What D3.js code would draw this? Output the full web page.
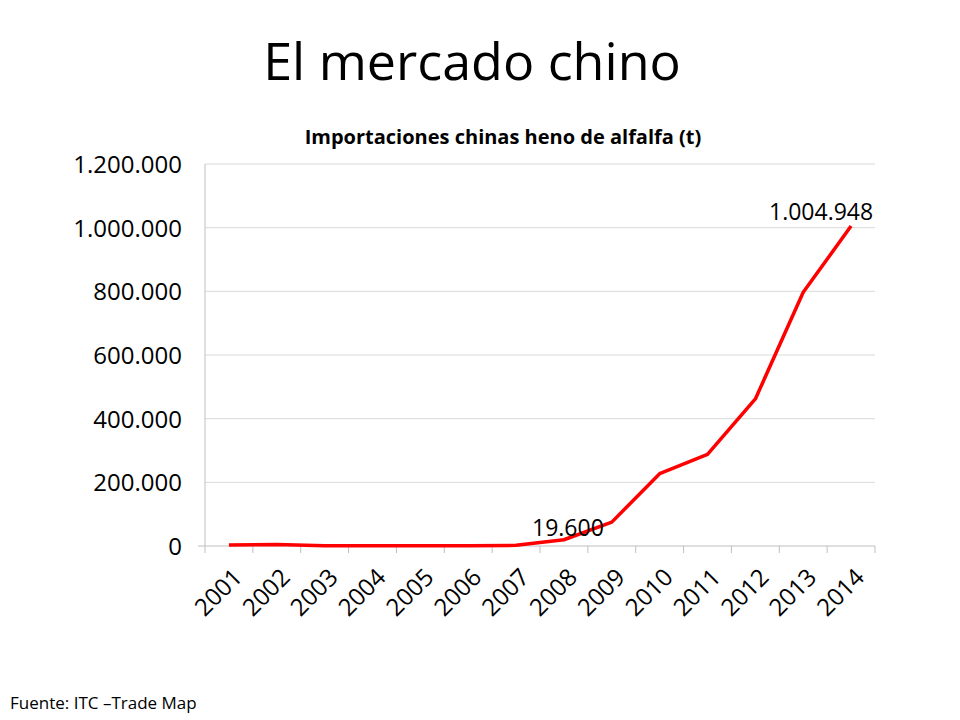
<!DOCTYPE html>
<html><head><meta charset="utf-8">
<script src="https://cdn.jsdelivr.net/npm/d3@7"></script>
<style>body{margin:0;background:#fff;font-family:"Open Sans",sans-serif}</style>
</head><body>
<svg id="c" width="960" height="720"></svg>
<script>
const years=["2001","2002","2003","2004","2005","2006","2007","2008","2009","2010","2011","2012","2013","2014"];
const values=[3000,5000,1000,500,500,500,2000,19600,75000,227000,288000,462000,797000,1004948];
const yTicks=[0,200000,400000,600000,800000,1000000,1200000];
const fmt=d=>d3.format(",")(d).replace(/,/g,".");
const svg=d3.select("#c");
const font="'Open Sans',sans-serif";
const L=205,R=875,T=164,B=546;
const x=d3.scaleBand().domain(years).range([L,R]);
const y=d3.scaleLinear().domain([0,1200000]).range([B,T]);
svg.append("text").attr("x",472).attr("y",80).attr("text-anchor","middle").attr("font-family",font).attr("font-size",52).text("El mercado chino");
svg.append("text").attr("x",503).attr("y",144).attr("text-anchor","middle").attr("font-family",font).attr("font-size",20).attr("font-weight","bold").text("Importaciones chinas heno de alfalfa (t)");
svg.append("g").selectAll("line").data(yTicks.slice(1)).join("line").attr("x1",L).attr("x2",R).attr("y1",d=>y(d)).attr("y2",d=>y(d)).attr("stroke","#d9d9d9");
svg.append("line").attr("x1",L).attr("x2",L).attr("y1",T).attr("y2",B).attr("stroke","#bfbfbf");
svg.append("line").attr("x1",L-7).attr("x2",R).attr("y1",B).attr("y2",B).attr("stroke","#bfbfbf");
const tickPos=years.map(d=>x(d)).concat([R]);
svg.append("g").selectAll("line").data(tickPos).join("line").attr("x1",d=>d).attr("x2",d=>d).attr("y1",B).attr("y2",B+7).attr("stroke","#bfbfbf");
svg.append("g").selectAll("text").data(yTicks).join("text").attr("x",182).attr("y",d=>y(d)+9).attr("text-anchor","end").attr("font-family",font).attr("font-size",24).text(fmt);
svg.append("g").selectAll("text").data(years).join("text")
 .attr("transform",d=>`translate(${x(d)+x.bandwidth()/2+2},${B+20}) rotate(-45)`)
 .attr("text-anchor","end").attr("dy","0.75em").attr("font-family",font).attr("font-size",24).text(d=>d);
const line=d3.line().x((d,i)=>x(years[i])+x.bandwidth()/2).y(d=>y(d));
svg.append("path").datum(values).attr("d",line).attr("fill","none").attr("stroke","#ff0000").attr("stroke-width",3.5).attr("stroke-linejoin","round");
svg.append("text").attr("x",x("2008")+x.bandwidth()/2+4).attr("y",y(19600)-4).attr("text-anchor","middle").attr("font-family",font).attr("font-size",23).text(fmt(19600));
svg.append("text").attr("x",x("2014")+x.bandwidth()/2-30).attr("y",y(1004948)-6).attr("text-anchor","middle").attr("font-family",font).attr("font-size",23).text(fmt(1004948));
svg.append("text").attr("x",10).attr("y",709).attr("font-family",font).attr("font-size",17).text("Fuente: ITC –Trade Map");
</script></body></html>
